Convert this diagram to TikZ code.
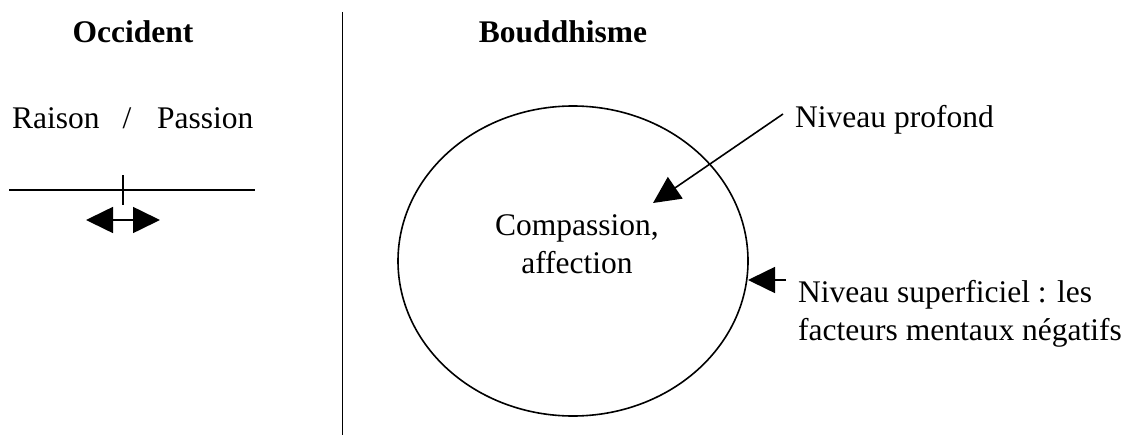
\documentclass[tikz,border=0pt]{standalone}
\usepackage{fontspec}
\setmainfont{Liberation Serif}
\usetikzlibrary{arrows.meta,shapes.geometric}
\tikzset{
  txt/.style={inner sep=0pt, anchor=base, font=\fontsize{31.5}{38}\selectfont},
  txtw/.style={txt, anchor=base west},
  head/.style={txt, font=\fontsize{31.5}{38}\selectfont\bfseries},
  ln/.style={line width=1.6pt},
  sep/.style={line width=1pt},
  arr/.style={ln, -{Triangle[length=27pt,width=26pt]}},
  darr/.style={ln, {Triangle[length=27pt,width=26pt]}-{Triangle[length=27pt,width=26pt]}}
}
\begin{document}
\begin{tikzpicture}[x=1pt,y=-1pt]
\useasboundingbox (0,0) rectangle (1126,436);
% headings
\node[head] (occ) at (133,43) {Occident};
\node[head] (boud) at (563,43) {Bouddhisme};
% separator
\coordinate (septop) at (342,12);
\coordinate (sepbot) at (342,435);
\draw[sep] (septop) -- (sepbot);
% left side
\node[txtw] (raison) at (12,128) {Raison};
\node[txt] (slash) at (127,128) {/};
\node[txtw] (passion) at (157,128) {Passion};
\coordinate (hl) at (9,190);
\coordinate (hr) at (255,190);
\coordinate (tt) at (123,175);
\coordinate (tb) at (123,205);
\draw[ln] (hl) -- (hr);
\draw[ln] (tt) -- (tb);
\coordinate (dl) at (86,220);
\coordinate (dr) at (160,220);
\draw[darr] (dl) -- (dr);
% right side
\node[draw, ln, ellipse, minimum width=350pt, minimum height=310pt, inner sep=0pt] (ell) at (573,261) {};
\node[txt] (comp) at (577,235) {Compassion,};
\node[txt] (aff) at (577,273) {affection};
\node[txtw] (prof) at (795,127) {Niveau profond};
\coordinate (pstart) at (783,114);
\coordinate (ptip) at (653,203);
\draw[arr] (pstart) -- (ptip);
\node[txtw] (sup1) at (798,302) {Niveau superficiel : les};
\node[txtw] (sup2) at (798,340) {facteurs mentaux négatifs};
\coordinate (sstart) at (786,280);
\coordinate (stip) at (748,280);
\draw[arr] (sstart) -- (stip);
\end{tikzpicture}
\end{document}
